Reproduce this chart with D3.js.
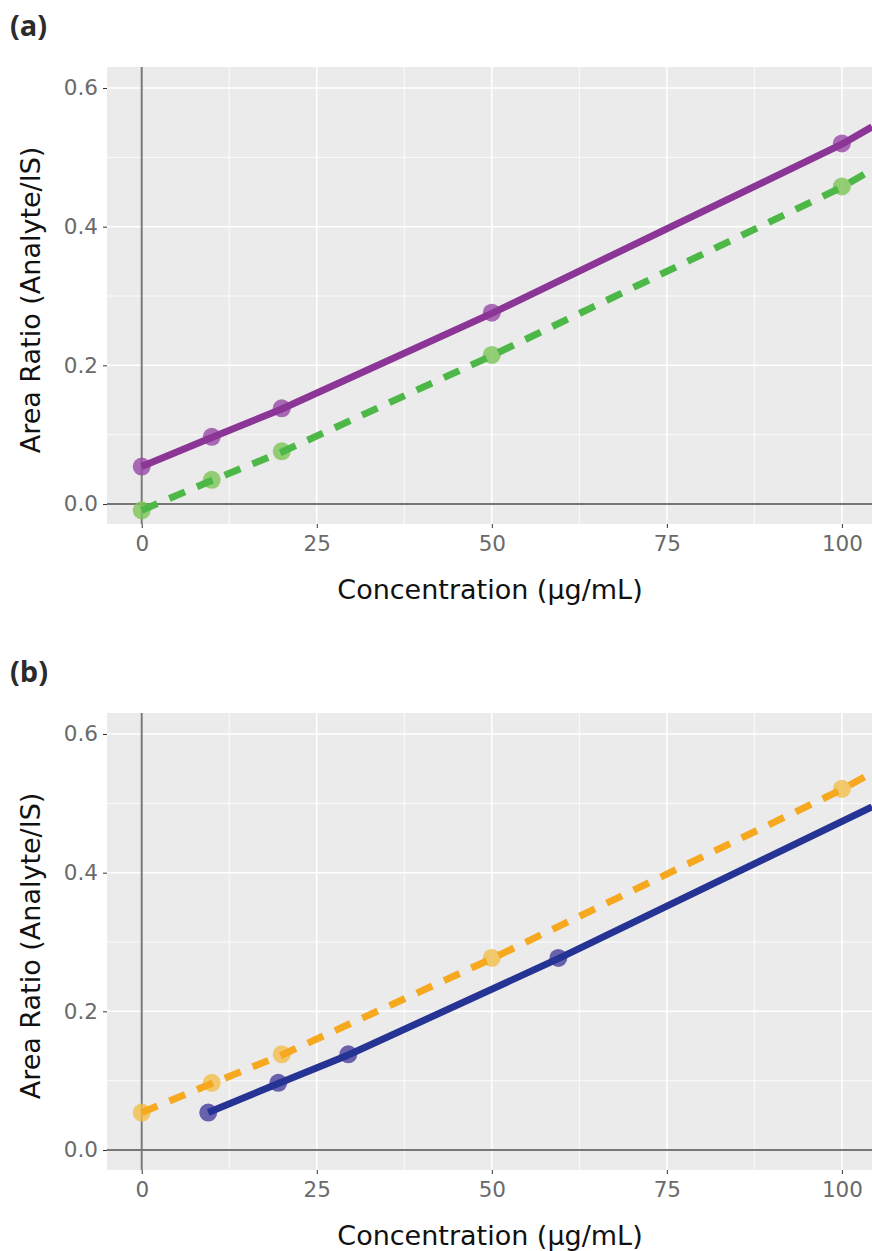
<!DOCTYPE html>
<html>
<head>
<meta charset="utf-8">
<script src="https://cdn.jsdelivr.net/npm/d3@7"></script>
<style>
  body { margin: 0; background: #fff; }
  svg { display: block; }
</style>
</head>
<body>
<main></main>
<script>
// concentrations and measured area ratios, panel (a)
var concA = [0, 10, 20, 50, 100]
var purpleA = [0.054, 0.097, 0.138, 0.276, 0.520]
var greenA = [-0.009, 0.035, 0.076, 0.215, 0.458]
// fitted lines, panel (a)
var fitXA = [0, 10, 20, 50, 100, 104.3]
var purpleFitA = [0.054, 0.096, 0.137, 0.275, 0.519, 0.544]
var greenFitA = [-0.009, 0.034, 0.075, 0.214, 0.457, 0.482]

// panel (b)
var concOrange = [0, 10, 20, 50, 100]
var orangeB = [0.054, 0.097, 0.138, 0.277, 0.521]
var concBlue = [9.5, 19.5, 29.5, 59.5]
var blueB = [0.054, 0.097, 0.138, 0.277]
var fitXOrange = [0, 10, 20, 50, 100, 104.3]
var orangeFitB = [0.054, 0.096, 0.137, 0.276, 0.520, 0.544]
var fitXBlue = [9.5, 19.5, 29.5, 59.5, 104.3]
var blueFitB = [0.054, 0.096, 0.137, 0.276, 0.495]

var xTicks = [0, 25, 50, 75, 100]
var xMinor = [12.5, 37.5, 62.5, 87.5]
var yTicks = [0.0, 0.2, 0.4, 0.6]
var yMinor = [0.1, 0.3, 0.5]

var W = 872, H = 1251
var svg = d3.select('main').append('svg')
    .attr('width', W)
    .attr('height', H)

// panel box (same for both panels, shifted down for (b))
var pLeft = 107, pRight = 872, pTop = 67, pBottom = 524

var x = d3.scaleLinear().domain([-4.96, 104.3]).range([pLeft, pRight])
var y = d3.scaleLinear().domain([-0.0288, 0.6303]).range([pBottom, pTop])

function zip(xs, ys) {
    return xs.map(function (v, i) { return [v, ys[i]] })
}

function drawPanel(offset, id, label, series) {
    var g = svg.append('g').attr('transform', 'translate(0,' + offset + ')')

    g.append('text')
        .attr('x', 10)
        .attr('y', 36)
        .attr('font-family', 'Open Sans')
        .attr('font-weight', 'bold')
        .attr('font-size', 29)
        .attr('fill', '#2b2b2b')
        .text(label)

    g.append('defs').append('clipPath').attr('id', id)
        .append('rect')
        .attr('x', pLeft).attr('y', pTop)
        .attr('width', pRight - pLeft).attr('height', pBottom - pTop)

    g.append('rect')
        .attr('x', pLeft).attr('y', pTop)
        .attr('width', pRight - pLeft).attr('height', pBottom - pTop)
        .attr('fill', '#EBEBEB')

    // grid
    g.selectAll('.ymin').data(yMinor).enter().append('line')
        .attr('x1', pLeft).attr('x2', pRight)
        .attr('y1', function (d) { return y(d) }).attr('y2', function (d) { return y(d) })
        .attr('stroke', '#fff').attr('stroke-width', 0.8)
    g.selectAll('.xmin').data(xMinor).enter().append('line')
        .attr('y1', pTop).attr('y2', pBottom)
        .attr('x1', function (d) { return x(d) }).attr('x2', function (d) { return x(d) })
        .attr('stroke', '#fff').attr('stroke-width', 0.8)
    g.selectAll('.ymaj').data(yTicks).enter().append('line')
        .attr('x1', pLeft).attr('x2', pRight)
        .attr('y1', function (d) { return y(d) }).attr('y2', function (d) { return y(d) })
        .attr('stroke', '#fff').attr('stroke-width', 1.5)
    g.selectAll('.xmaj').data(xTicks).enter().append('line')
        .attr('y1', pTop).attr('y2', pBottom)
        .attr('x1', function (d) { return x(d) }).attr('x2', function (d) { return x(d) })
        .attr('stroke', '#fff').attr('stroke-width', 1.5)

    // reference lines at zero
    g.append('line')
        .attr('x1', pLeft).attr('x2', pRight)
        .attr('y1', y(0)).attr('y2', y(0))
        .attr('stroke', '#4a4a4a').attr('stroke-width', 1.5)
    g.append('line')
        .attr('x1', x(0)).attr('x2', x(0))
        .attr('y1', pTop).attr('y2', pBottom)
        .attr('stroke', '#7a7a7a').attr('stroke-width', 2)

    // axes
    var xAxis = g.append('g')
        .attr('transform', 'translate(0,' + pBottom + ')')
        .call(d3.axisBottom(x).tickValues(xTicks).tickSize(4).tickPadding(6).tickFormat(d3.format('d')))
    var yAxis = g.append('g')
        .attr('transform', 'translate(' + pLeft + ',0)')
        .call(d3.axisLeft(y).tickValues(yTicks).tickSize(4).tickPadding(5).tickFormat(d3.format('.1f')))
    ;[xAxis, yAxis].forEach(function (a) {
        a.select('.domain').remove()
        a.selectAll('.tick line').attr('stroke', '#333').attr('stroke-width', 1)
        a.selectAll('.tick text')
            .attr('font-family', 'DejaVu Sans')
            .attr('font-size', 21.5)
            .attr('fill', '#6a6a6a')
    })
    xAxis.selectAll('.tick text').attr('dy', '0.78em')

    // titles
    g.append('text')
        .attr('x', 490)
        .attr('y', 599)
        .attr('text-anchor', 'middle')
        .attr('font-family', 'DejaVu Sans')
        .attr('font-size', 27)
        .attr('fill', '#111')
        .text('Concentration (\u00B5g/mL)')
    g.append('text')
        .attr('transform', 'translate(40,300) rotate(-90)')
        .attr('text-anchor', 'middle')
        .attr('font-family', 'DejaVu Sans')
        .attr('font-size', 27)
        .attr('fill', '#111')
        .text('Area Ratio (Analyte/IS)')

    var plot = g.append('g').attr('clip-path', 'url(#' + id + ')')
    var line = d3.line().x(function (d) { return x(d[0]) }).y(function (d) { return y(d[1]) })

    series.forEach(function (s) {
        plot.selectAll(null).data(s.pts).enter().append('circle')
            .attr('cx', function (d) { return x(d[0]) })
            .attr('cy', function (d) { return y(d[1]) })
            .attr('r', 9)
            .attr('fill', s.pointColor)
            .attr('fill-opacity', 0.8)
    })
    series.forEach(function (s) {
        plot.append('path')
            .datum(s.fit)
            .attr('d', line)
            .attr('fill', 'none')
            .attr('stroke', s.lineColor)
            .attr('stroke-width', 7)
            .attr('stroke-dasharray', s.dashed ? '17,13' : null)
    })
}

drawPanel(0, 'clipA', '(a)', [
    { pts: zip(concA, purpleA), fit: zip(fitXA, purpleFitA), pointColor: '#9847A6', lineColor: '#8B3596', dashed: false },
    { pts: zip(concA, greenA), fit: zip(fitXA, greenFitA), pointColor: '#7DC655', lineColor: '#4DB848', dashed: true }
])
drawPanel(646, 'clipB', '(b)', [
    { pts: zip(concBlue, blueB), fit: zip(fitXBlue, blueFitB), pointColor: '#4A3F9E', lineColor: '#253494', dashed: false },
    { pts: zip(concOrange, orangeB), fit: zip(fitXOrange, orangeFitB), pointColor: '#F4BE4A', lineColor: '#F6A81F', dashed: true }
])
</script>
</body>
</html>
